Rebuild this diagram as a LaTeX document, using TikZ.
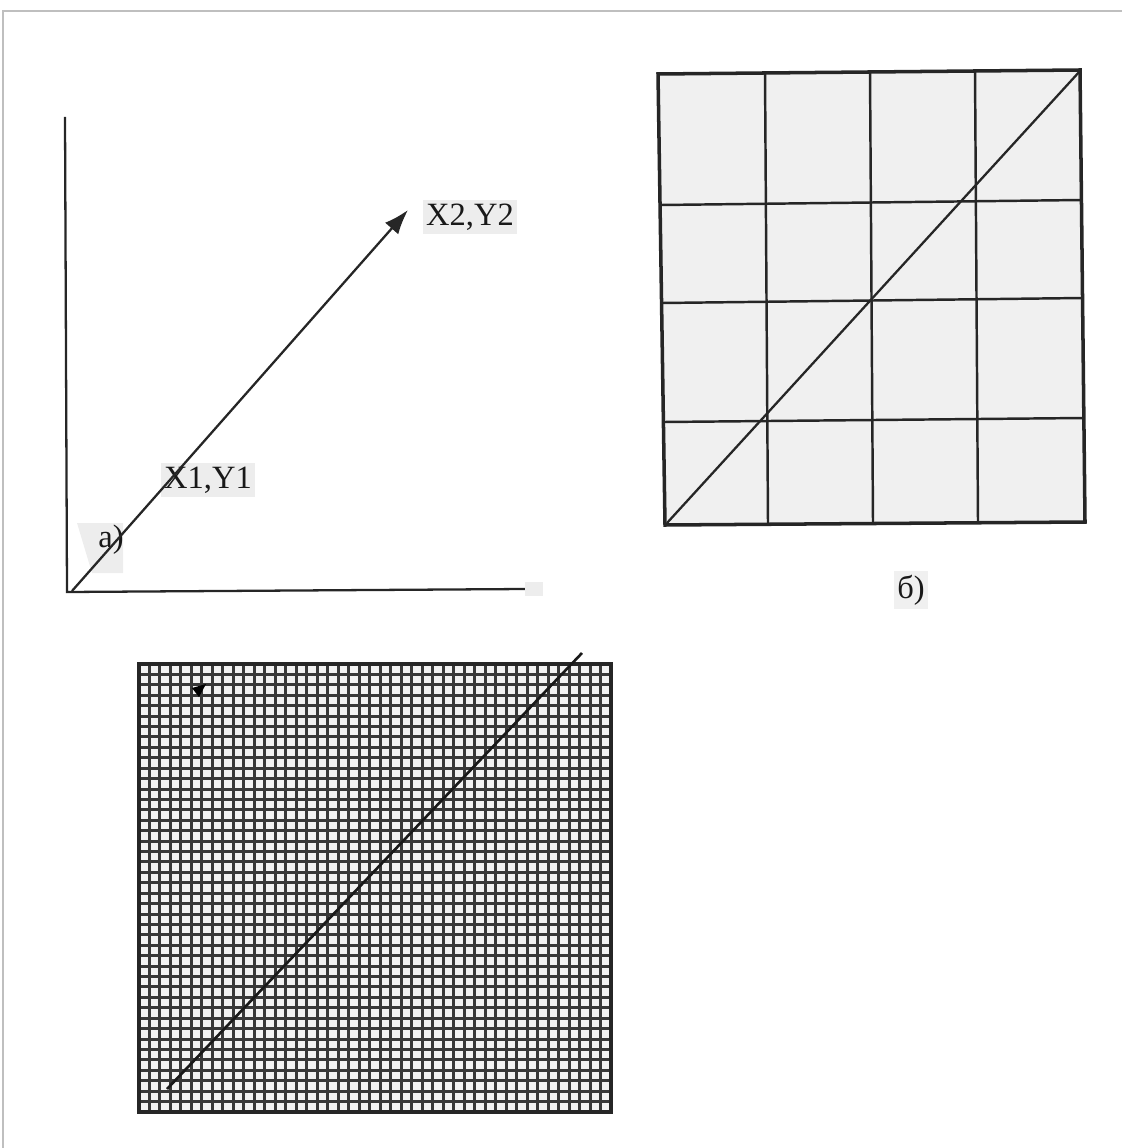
\documentclass[tikz,border=0pt]{standalone}
\usepackage{fontspec}
\setmainfont{Liberation Serif}
\usetikzlibrary{arrows.meta}
\begin{document}
\begin{tikzpicture}[x=0.02cm,y=-0.02cm,
  axisline/.style={line width=1.3pt,black!85},
  cellline/.style={line width=1.4pt,black!85},
  fineline/.style={line width=1.7pt,black!78},
  framebox/.style={line width=2pt,black!85},
  lbl/.style={fill=black!7,inner sep=2pt,font=\fontsize{18.5pt}{20pt}\selectfont,text=black!90},
  pageedge/.style={line width=0.6pt,black!25}]
\useasboundingbox (0,0) rectangle (1122,1148);
% page edge
\coordinate (E0) at (3,1148);
\coordinate (E1) at (3,11);
\coordinate (E2) at (1122,11);
\draw[pageedge] (E0) -- (E1) -- (E2);

% ---------- a) ----------
\coordinate (O) at (67,592);
\coordinate (Ytop) at (65,117);
\coordinate (Xend) at (525,589);
\coordinate (Ostart) at (72,591);
\coordinate (P2) at (408,210);
\fill[black!7] (77,523) -- (123,523) -- (123,573) -- (92,573) -- cycle;
\draw[axisline] (Ytop) -- (O) -- (Xend);
\fill[black!7] (525,582) rectangle (543,596);
\node[lbl] (x1) at (208,480) {X1,Y1};
\node[lbl] (x2) at (470,217) {X2,Y2};
\node[font=\fontsize{18.5pt}{20pt}\selectfont,text=black!90,inner sep=1pt] (la) at (111,540) {а)};
\draw[axisline,-{Latex[length=14pt,width=10pt]}] (Ostart) -- (P2);

% ---------- б) ----------
\coordinate (B00) at (658,74);
\coordinate (B10) at (1080,70);
\coordinate (B11) at (1085,522);
\coordinate (B01) at (665,525);
\fill[black!6] (B00) -- (B10) -- (B11) -- (B01) -- cycle;
% vertical cell lines
\coordinate (V1t) at (765,73);  \coordinate (V1b) at (768,524);
\coordinate (V2t) at (870,72);  \coordinate (V2b) at (873,523);
\coordinate (V3t) at (975,71);  \coordinate (V3b) at (978,523);
\draw[cellline] (V1t) -- (V1b);
\draw[cellline] (V2t) -- (V2b);
\draw[cellline] (V3t) -- (V3b);
% horizontal cell lines
\coordinate (H1l) at (661,205); \coordinate (H1r) at (1082,200);
\coordinate (H2l) at (662,303); \coordinate (H2r) at (1083,298);
\coordinate (H3l) at (664,422); \coordinate (H3r) at (1084,418);
\draw[cellline] (H1l) -- (H1r);
\draw[cellline] (H2l) -- (H2r);
\draw[cellline] (H3l) -- (H3r);
\draw[framebox] (B00) -- (B10) -- (B11) -- (B01) -- cycle;
\coordinate (D1) at (667,523);
\coordinate (D2) at (1080,71);
\draw[axisline] (D1) -- (D2);
\node[lbl,fill=black!6] (lb) at (911,590) {б)};

% ---------- fine grid ----------
\coordinate (G00) at (139,664);
\coordinate (G11) at (611,1112);
\fill[black!5] (G00) rectangle (G11);
\foreach \i in {1,...,44}
  \draw[fineline] ({139+\i*10.4889},664) -- ({139+\i*10.4889},1112);
\foreach \j in {1,...,42}
  \draw[fineline] (139,{664+\j*10.4186}) -- (611,{664+\j*10.4186});
\draw[framebox,line width=2.4pt] (G00) rectangle (G11);
\coordinate (F1) at (167,1089);
\coordinate (F2) at (582,653);
\draw[line width=1.5pt,black!90] (F1) -- (F2);
\coordinate (M) at (192,688);
\fill[black] (M) -- ++(14,-4) -- ++(-7,13) -- cycle;
\end{tikzpicture}
\end{document}
